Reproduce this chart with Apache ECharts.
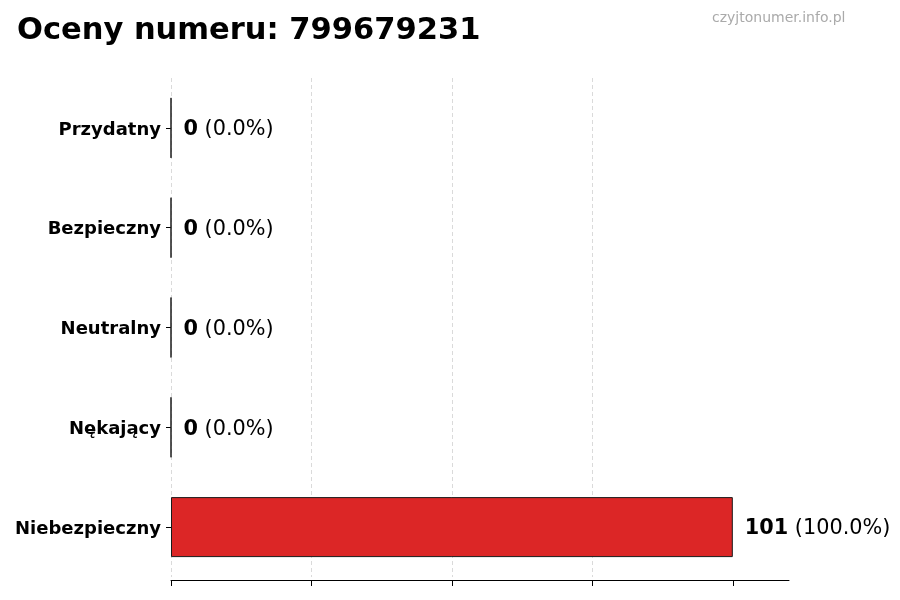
<!DOCTYPE html>
<html>
<head>
<meta charset="utf-8">
<script src="https://cdn.jsdelivr.net/npm/echarts@6/dist/echarts.min.js"></script>
<style>
html,body{margin:0;padding:0;background:#fff;}
#c{width:900px;height:600px;}
</style>
</head>
<body>
<div id="c"></div>
<script>
const titleText = 'Oceny numeru: 799679231';
const watermark = 'czyjtonumer.info.pl';
const categories = ['Przydatny', 'Bezpieczny', 'Neutralny', 'Nękający', 'Niebezpieczny'];
const values = [0, 0, 0, 0, 101];
const xTicks = [0, 25.25, 50.5, 75.75, 101];
const xMax = 111.1;

const total = values.reduce((a, b) => a + b, 0);
const FONT = 'DejaVu Sans';

const chart = echarts.init(document.getElementById('c'), null, {renderer: 'canvas'});
chart.setOption({
  backgroundColor: '#ffffff',
  animation: false,
  title: [
    {text: titleText, left: 17, top: 16, padding: 0,
     textStyle: {fontFamily: FONT, fontSize: 30.5, fontWeight: 'bold', color: '#000'}},
    {text: watermark, left: 712, top: 11, padding: 0,
     textStyle: {fontFamily: FONT, fontSize: 14, fontWeight: 'normal', color: '#aaaaaa'}}
  ],
  grid: {left: 171, right: 111, top: 78, bottom: 23, containLabel: false},
  xAxis: {
    type: 'value', min: 0, max: xMax, interval: 25.25, offset: 3,
    axisLine: {show: true, lineStyle: {color: '#000', width: 1}},
    axisTick: {show: true, length: 6, customValues: xTicks, lineStyle: {color: '#000', width: 1}},
    axisLabel: {show: false},
    splitLine: {show: true, showMaxLine: false, showMinLine: true,
      lineStyle: {color: '#d0d0d0', type: [4, 3], width: 0.8}}
  },
  yAxis: {
    type: 'category', data: categories, inverse: true,
    axisLine: {show: false},
    axisTick: {show: true, alignWithLabel: true, length: 5, lineStyle: {color: '#000', width: 1}},
    axisLabel: {fontFamily: FONT, fontSize: 18, fontWeight: 'bold', color: '#000', margin: 10,
      formatter: v => '{c|' + v + '}',
      rich: {c: {fontFamily: FONT, fontSize: 18, fontWeight: 'bold', color: '#000', padding: [4, 0, 0, 0]}}},
    splitLine: {show: false}
  },
  series: [{
    type: 'bar',
    data: values,
    barWidth: 60,
    itemStyle: {color: '#dc2626', borderColor: '#1a1a1a', borderWidth: 1},
    label: {
      show: true, position: 'right', distance: 12, offset: [0, 2],
      formatter: p => {
        const pct = total ? (p.value / total * 100).toFixed(1) : '0.0';
        return '{b|' + p.value + '}{n| (' + pct + '%)}';
      },
      rich: {
        b: {fontFamily: FONT, fontSize: 20.8, fontWeight: 'bold', color: '#000'},
        n: {fontFamily: FONT, fontSize: 20.8, fontWeight: 'normal', color: '#000'}
      }
    }
  }]
});
</script>
</body>
</html>
